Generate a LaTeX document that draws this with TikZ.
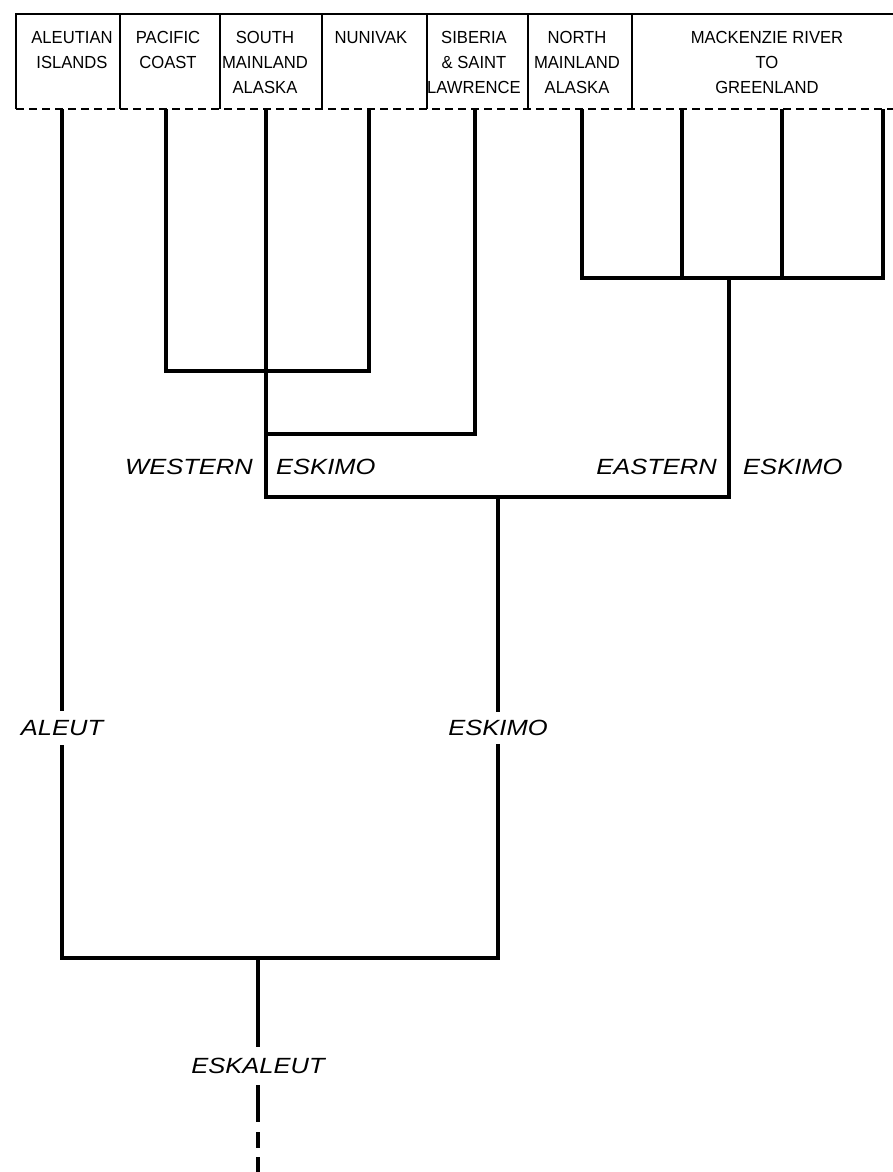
\documentclass[tikz,border=0pt]{standalone}
\usepackage{fontspec}
\setmainfont{Liberation Sans}
\newfontfamily\hdrfont[FakeStretch=0.95]{Liberation Sans}
\newfontfamily\lblfont[FakeStretch=1.16]{Liberation Sans Italic}
\begin{document}
\begin{tikzpicture}[x=1pt,y=-1pt,
  hdr/.style={anchor=north,inner sep=0pt,align=center,font=\hdrfont\fontsize{17.5}{25}\selectfont},
  lbl/.style={inner xsep=0pt,inner ysep=0pt,font=\lblfont\fontsize{22}{22}\selectfont},
  tree/.style={line width=3.1pt,line join=miter},
  frame/.style={line width=2.3pt},
  hdash/.style={line width=2.3pt,dash pattern=on 8pt off 5pt}]
\useasboundingbox (0,0) rectangle (893,1172);
% header
\draw[frame] (16,109) -- (16,14) -- (893,14);
\foreach \x in {120,220,322,427,528,632}{\draw[frame] (\x,14) -- (\x,109);}
\draw[hdash] (16,109) -- (893,109);
\node[hdr] (h1) at (72,31.5) {ALEUTIAN\\ISLANDS};
\node[hdr] (h2) at (168,31.5) {PACIFIC\\COAST};
\node[hdr] (h3) at (265,31.5) {SOUTH\\MAINLAND\\ALASKA};
\node[hdr] (h4) at (371,31.5) {NUNIVAK};
\node[hdr] (h5) at (474,31.5) {SIBERIA\\\& SAINT\\LAWRENCE};
\node[hdr] (h6) at (577,31.5) {NORTH\\MAINLAND\\ALASKA};
\node[hdr] (h7) at (767,31.5) {MACKENZIE RIVER\\TO\\GREENLAND};
% top endpoints
\coordinate (tA) at (62,109);
\coordinate (tP) at (166,109);
\coordinate (tS) at (266,109);
\coordinate (tN) at (369,109);
\coordinate (tB) at (475,109);
\coordinate (tNM) at (582,109);
\coordinate (tM1) at (682,109);
\coordinate (tM2) at (782,109);
\coordinate (tM3) at (883,109);
% junctions
\coordinate (jPN) at (266,371);
\coordinate (jSB) at (266,434);
\coordinate (jE) at (729,278);
\coordinate (jW) at (498,497);
\coordinate (jA) at (258,958);
\coordinate (root) at (258,1172);
% labels
\node[lbl,anchor=east] (west) at (253,467) {WESTERN};
\node[lbl,anchor=west] (weskimo) at (276,467) {ESKIMO};
\node[lbl,anchor=east] (east) at (717,467) {EASTERN};
\node[lbl,anchor=west] (eeskimo) at (743,467) {ESKIMO};
\node[lbl,inner ysep=9pt] (aleut) at (62,728) {ALEUT};
\node[lbl,inner ysep=8pt] (eskimo) at (498,728) {ESKIMO};
\node[lbl,inner ysep=11pt] (eskaleut) at (258,1066) {ESKALEUT};
% western branches
\draw[tree] (tP) -- (tP |- jPN) -- (tN |- jPN) -- (tN);
\draw[tree] (tB) -- (tB |- jSB) -- (jSB);
\draw[tree] (tS) -- (tS |- jW) -- (jE |- jW) -- (jE);
% eastern branches
\draw[tree] (tNM) -- (tNM |- jE) -- (tM3 |- jE) -- (tM3);
\draw[tree] (tM1) -- (tM1 |- jE);
\draw[tree] (tM2) -- (tM2 |- jE);
% eskimo and aleut
\draw[tree] (jW) -- (eskimo.north);
\draw[tree] (eskimo.south) -- (eskimo.south |- jA) -- (aleut.south |- jA) -- (aleut.south);
\draw[tree] (tA) -- (aleut.north);
% eskaleut
\draw[tree] (jA) -- (eskaleut.north);
\draw[tree,dash pattern=on 37pt off 10pt on 16pt off 9pt on 30pt] (eskaleut.south) -- (root);
\end{tikzpicture}
\end{document}
